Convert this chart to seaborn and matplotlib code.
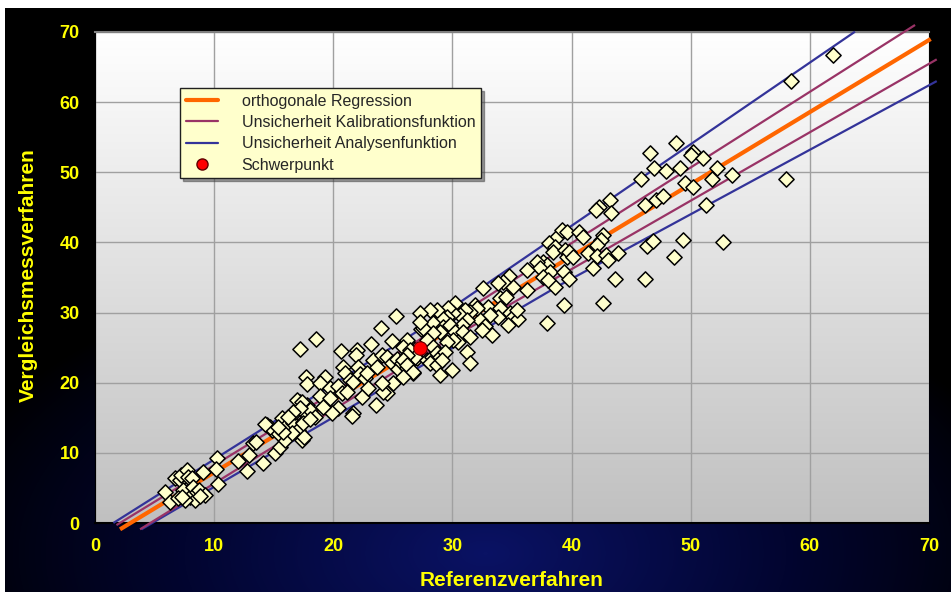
"""
    Orthogonale Regression: Vergleichsmessverfahren gegen Referenzverfahren,
    mit Unsicherheitsbaendern und Schwerpunkt. Werte vom Bild abgelesen.
"""

import numpy as np
import pandas as pd
import seaborn as sns
import matplotlib
matplotlib.use("Agg")
from matplotlib import pyplot as plt
from matplotlib.lines import Line2D
from matplotlib.colors import LinearSegmentedColormap


# messpunkte (referenz, vergleich)
low_pairs = [
    (5.87, 4.46), (6.29, 3.04), (6.71, 6.37), (7.13, 6.13), (7.19, 6.84), (7.41, 4.70),
    (6.99, 3.51), (7.69, 7.55), (7.83, 6.51), (7.97, 3.75), (8.11, 6.37), (8.25, 5.18),
    (8.39, 3.28), (8.53, 4.46), (8.76, 4.70), (9.09, 7.32), (9.23, 3.99), (7.55, 3.28),
    (7.27, 3.75), (8.81, 3.85), (10.21, 9.22), (10.16, 7.65), (10.35, 5.51), (12.03, 8.88),
    (12.73, 7.41), (12.95, 9.69), (13.29, 11.36), (13.51, 11.59), (14.07, 8.50), (15.11, 9.93),
    (15.53, 10.88), (15.95, 11.83), (14.41, 13.97), (14.83, 13.26), (15.39, 12.78), (15.67, 14.92),
    (16.09, 13.97), (16.37, 15.16), (16.65, 14.21), (16.79, 15.87), (17.07, 13.26), (17.21, 17.30),
    (17.49, 14.44), (17.63, 15.63), (17.77, 16.82), (17.35, 11.83), (17.54, 12.31), (18.05, 16.11),
    (16.51, 12.78), (15.81, 13.02), (16.93, 17.53),
]
mid_pairs = [
    (17.21, 24.80), (18.55, 26.23), (20.62, 24.52), (21.96, 24.66), (21.91, 23.95), (23.14, 25.51),
    (23.98, 27.84), (25.26, 29.51), (24.90, 25.99), (26.16, 25.85), (27.34, 27.61),
    (17.71, 20.76), (17.77, 19.76), (19.31, 20.76), (18.89, 19.91), (19.73, 19.19), (20.42, 19.53),
    (20.84, 22.19), (20.98, 21.33), (21.40, 20.38), (21.68, 20.14), (22.10, 22.19), (22.24, 21.24),
    (22.66, 20.62), (22.80, 21.43), (23.36, 23.23), (23.64, 22.19), (24.06, 23.95), (24.48, 23.61),
    (24.90, 22.76), (25.32, 23.42), (25.46, 22.01), (25.74, 22.76), (26.02, 23.23), (26.16, 22.05),
    (26.58, 23.95), (26.72, 21.33), (27.00, 23.47), (25.04, 19.91), (24.48, 18.48), (24.20, 18.72),
    (23.59, 16.82), (22.38, 17.91), (21.68, 15.72), (21.54, 15.25), (20.42, 16.34), (19.87, 15.63),
    (18.89, 18.10), (19.17, 16.58), (18.47, 15.15), (17.35, 17.29), (17.21, 16.34), (16.65, 15.87),
    (16.23, 15.15), (14.69, 13.73), (14.27, 14.11), (15.39, 13.73), (17.49, 14.20), (18.05, 14.77),
    (19.73, 17.77), (20.71, 18.48), (21.12, 18.72), (22.94, 19.19), (24.06, 19.91),
]
upper_pairs = [
    (38.75, 40.82), (38.13, 39.87), (38.61, 39.40), (38.47, 38.68), (39.45, 38.92),
    (39.59, 37.97), (38.61, 33.60), (37.91, 28.56), (37.63, 37.26), (37.91, 36.78), (37.07, 37.26),
    (37.35, 36.31), (36.23, 36.07), (38.19, 35.83), (37.63, 35.12), (38.05, 34.64), (36.23, 33.22),
    (35.11, 33.69), (34.78, 35.21), (34.27, 34.40), (33.85, 34.17), (32.54, 33.45), (33.99, 32.03),
    (34.50, 32.27), (31.90, 31.08), (33.01, 30.84), (33.99, 30.60), (34.83, 29.89), (35.11, 29.41),
    (35.53, 29.03), (35.39, 30.37), (34.69, 28.23), (33.85, 29.32), (33.15, 29.65), (32.31, 28.94),
    (32.73, 28.08), (33.29, 26.80), (32.45, 27.51), (32.04, 30.60), (31.48, 30.13), (31.06, 30.37),
    (30.64, 29.65), (31.20, 28.94), (30.78, 28.23), (30.22, 31.32), (30.08, 29.89), (29.66, 30.60),
    (29.52, 29.41), (29.10, 29.18), (28.68, 30.37), (28.12, 30.37), (27.28, 29.89), (28.40, 28.46),
    (29.24, 27.99), (29.80, 28.23), (30.22, 27.27), (30.92, 27.27), (31.48, 26.56), (30.50, 25.85),
    (30.08, 26.09), (29.52, 25.85), (28.96, 27.27), (28.40, 27.04), (27.84, 26.09), (27.56, 27.75),
    (27.28, 28.70), (26.16, 26.09), (25.88, 25.14), (26.44, 24.66), (26.86, 23.71), (26.16, 23.95),
    (25.88, 23.24), (26.16, 22.52), (26.72, 21.57), (25.88, 20.86), (27.84, 23.24), (28.26, 23.71),
    (28.40, 25.14), (28.68, 24.19), (28.96, 23.71), (29.38, 24.42), (28.12, 22.76), (28.68, 22.52),
    (29.10, 23.24), (29.94, 21.81), (28.96, 21.10), (31.20, 24.42), (31.48, 22.86),
]
high_pairs = [
    (48.77, 54.23), (46.58, 52.71), (46.92, 50.66), (47.93, 50.24), (49.10, 50.57), (50.17, 52.94),
    (50.00, 52.47), (51.00, 51.99), (52.24, 50.57), (53.44, 49.62), (51.76, 49.00), (49.52, 48.52),
    (50.17, 47.95), (45.80, 49.00), (46.17, 45.34), (47.09, 46.05), (47.70, 46.62), (51.29, 45.34),
    (43.23, 46.05), (42.33, 45.01), (42.05, 44.63), (43.28, 44.15), (39.17, 41.78), (39.59, 41.54),
    (40.65, 41.54), (40.93, 40.82), (42.61, 41.06), (42.44, 40.35), (42.16, 39.64), (41.41, 38.54),
    (39.81, 38.69), (40.15, 37.88), (42.16, 38.07), (42.89, 38.21), (43.09, 37.50), (43.93, 38.45),
    (41.83, 36.31), (39.37, 35.83), (39.81, 34.74), (43.65, 34.74), (46.17, 34.74), (46.36, 39.49),
    (46.81, 40.25), (49.38, 40.35), (48.60, 37.88), (52.74, 40.02), (39.37, 31.08), (42.61, 31.41),
    (61.92, 66.72), (58.39, 63.07), (58.00, 49.00),
]

# linien (stuetzpunkte vom bild)
reg_x = [2.1, 70.14]
reg_y = [-0.9, 69.0]
kal_up_x = [1.8, 27.3, 68.83]
kal_up_y = [-0.3, 26.2, 71.0]
kal_lo_x = [3.78, 27.3, 70.65]
kal_lo_y = [-0.9, 23.8, 66.1]
ana_up_x = [1.54, 27.3, 63.79]
ana_up_y = [0.0, 27.6, 70.05]
ana_lo_x = [3.9, 39.03, 70.65]
ana_lo_y = [-0.9, 33.93, 63.0]

schwerpunkt_x = [27.3]
schwerpunkt_y = [24.95]

ticks = [0, 10, 20, 30, 40, 50, 60, 70]
labels = ["orthogonale Regression", "Unsicherheit Kalibrationsfunktion",
          "Unsicherheit Analysenfunktion", "Schwerpunkt"]

ORANGE = "#ff6600"
PURPLE = "#993366"
BLUE = "#333399"
YELLOW = "#ffff00"
NARROW = ["Liberation Sans Narrow", "Liberation Sans", "DejaVu Sans"]


def background(fig):
    # dunkler hintergrund mit blauem schimmer unten
    bg = fig.add_axes([5 / 951, 0, 946 / 951, 584 / 592], zorder=-10)
    h, w = 584, 946
    yy, xx = np.mgrid[0:h, 0:w]
    r = np.sqrt(((xx - 480) / 560.0) ** 2 + ((yy - 545) / 300.0) ** 2)
    t = np.clip(1 - r, 0, 1) ** 0.9
    cmap = LinearSegmentedColormap.from_list("bg", ["#000000", "#020530", "#0a1264"])
    bg.imshow(t, cmap=cmap, vmin=0, vmax=1, aspect="auto", interpolation="bilinear")
    bg.set_axis_off()


def makeplot():
    pts = pd.DataFrame(low_pairs + mid_pairs + upper_pairs + high_pairs,
                       columns=["Referenzverfahren", "Vergleichsmessverfahren"])

    sns.set_style("white")
    fig = plt.figure(figsize=(9.51, 5.92), dpi=100)
    fig.patch.set_facecolor("white")
    background(fig)

    ax = fig.add_axes([95 / 951, 1 - 523 / 592, 834 / 951, 491 / 592])
    ax.set_facecolor("none")

    # plotflaeche: weiss oben, grau unten
    grad = np.linspace(0, 1, 256).reshape(-1, 1)
    pcmap = LinearSegmentedColormap.from_list("pa", ["#c0c0c0", "#ffffff"])
    ax.imshow(grad, cmap=pcmap, origin="lower", extent=[0, 70, 0, 70],
              aspect="auto", zorder=0, interpolation="bilinear")

    lines = [(ana_up_x, ana_up_y, BLUE, 1.6), (ana_lo_x, ana_lo_y, BLUE, 1.6),
             (kal_up_x, kal_up_y, PURPLE, 1.6), (kal_lo_x, kal_lo_y, PURPLE, 1.6),
             (reg_x, reg_y, ORANGE, 3.0)]
    for lx, ly, c, lw in lines:
        sns.lineplot(x=lx, y=ly, sort=False, estimator=None, color=c, lw=lw, ax=ax, zorder=3)
        ax.lines[-1].set_clip_on(False)
        ax.lines[-1].set_solid_capstyle("butt")

    sns.scatterplot(data=pts, x="Referenzverfahren", y="Vergleichsmessverfahren", marker="D",
                    s=60, color="#ffffcc", edgecolor="black", linewidth=1.1, ax=ax, zorder=4)
    sns.scatterplot(x=schwerpunkt_x, y=schwerpunkt_y, marker="o", s=95, color="#ff0000",
                    edgecolor="#600000", linewidth=0.8, ax=ax, zorder=5)

    ax.set_xlim(0, 70)
    ax.set_ylim(0, 70)
    ax.set_xticks(ticks)
    ax.set_yticks(ticks)
    ax.set_axisbelow(True)
    ax.grid(True, color="#a0a0a0", lw=1.0)
    ax.set_xlabel("")
    ax.set_ylabel("")

    ax.tick_params(axis="both", direction="out", length=4, width=1, colors="black",
                   labelcolor=YELLOW, pad=7)
    for lab in ax.get_xticklabels() + ax.get_yticklabels():
        lab.set_fontfamily(NARROW)
        lab.set_fontweight("bold")
        lab.set_fontsize(13)

    ax.spines["right"].set_visible(False)
    ax.spines["top"].set_color("#808080")
    ax.spines["top"].set_linewidth(1.5)
    ax.spines["left"].set_color("black")
    ax.spines["bottom"].set_color("black")
    ax.spines["bottom"].set_linewidth(1.5)

    fig.text(512 / 951, 1 - 580 / 592, "Referenzverfahren", color=YELLOW, fontsize=15,
             fontweight="bold", family=NARROW, ha="center", va="center")
    fig.text(28 / 951, 1 - 275 / 592, "Vergleichsmessverfahren", color=YELLOW, fontsize=15,
             fontweight="bold", family=NARROW, ha="center", va="center", rotation=90)

    handles = [Line2D([], [], color=ORANGE, lw=3.0),
               Line2D([], [], color=PURPLE, lw=1.6),
               Line2D([], [], color=BLUE, lw=1.6),
               Line2D([], [], color="#ff0000", marker="o", ls="", markersize=8,
                      markeredgecolor="#600000")]
    leg = ax.legend(handles, labels, loc="upper left", bbox_to_anchor=(0.102, 0.886),
                    borderaxespad=0, frameon=True, fancybox=False, framealpha=1,
                    facecolor="#ffffcc", edgecolor="#202020",
                    prop={"family": ["Liberation Sans", "DejaVu Sans"], "size": 11.5},
                    handlelength=2.0, labelspacing=0.4, borderpad=0.35, handletextpad=1.5,
                    shadow={"ox": 2, "oy": -2, "color": "#404040"})
    leg.set_zorder(6)

    fig.savefig("out.png", dpi=100)


def main():
    makeplot()


if __name__ == "__main__":
    main()
